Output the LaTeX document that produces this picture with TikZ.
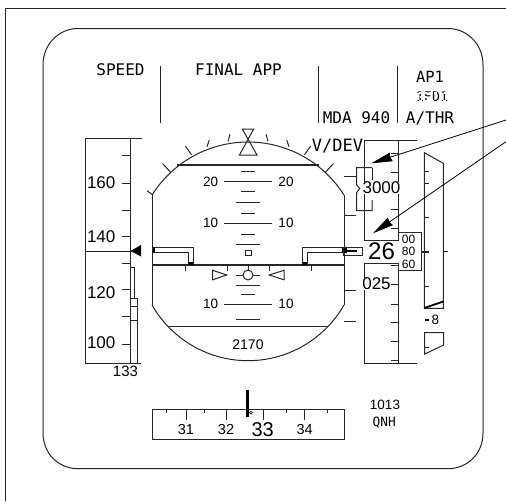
\documentclass[tikz,border=0pt]{standalone}
\usepackage{fontspec}
\usepackage{tikz}
\usetikzlibrary{arrows.meta}
\setmainfont{Liberation Sans}
\newfontfamily\panelmono{DejaVu Sans Mono}
\newcommand{\fs}[1]{\fontsize{#1}{#1}\selectfont}

\begin{document}
\begin{tikzpicture}[x=1pt, y=-1pt, line width=1pt, black!85,
    lbl/.style={inner sep=0pt, text=black},
    head/.style={lbl, font=\panelmono\fs{16}},
    tape/.style={lbl, font=\fs{17}},
    pitch/.style={lbl, font=\fs{13.5}},
    scalemark/.style={lbl, font=\fs{14}},
    pointer/.style={black, line width=0.8pt, -{Stealth[length=21pt, width=9pt, inset=1pt]}}]
  \useasboundingbox (0,0) rectangle (506,501);
  \draw (5,501) -- (5,8) -- (506,8);
  \draw (78,28.5) -- (448,28.5) .. controls (467,28.5) and (483,44) .. (483,65)
     -- (483,433) .. controls (483,454) and (467,468.7) .. (448,468.7)
     -- (78,468.7) .. controls (59,468.7) and (43,454) .. (43,433)
     -- (43,65) .. controls (43,44) and (59,28.5) .. (78,28.5);
  \foreach \x in {160,318.5,397.5}
    {\draw (\x,66) -- (\x,123);}
  \node[head] (speed) at (120.5,70) {SPEED};
  \node[head] (finalapp) at (238.5,70) {FINAL APP};
  \node[head, font=\panelmono\fs{15.5}] (apone) at (430,76.5) {AP1};
  \node[head, font=\panelmono\fs{13.3}] (fdone) at (432,96.5) {1FD1};
  \draw[white, line width=2pt, dash pattern=on 3pt off 2pt] (414,92.5) -- (450,92.5);
  \draw[white, line width=2pt, dash pattern=on 2pt off 3pt] (415,97) -- (450,97);
  \draw[white, line width=2pt, dash pattern=on 3pt off 3pt] (413,100.5) -- (450,100.5);
  \node[head] (mda) at (356.5,118) {MDA 940};
  \node[head] (athr) at (430,118) {A/THR};
  \node[head, font=\panelmono\fs{17}] (vdev) at (337.5,146) {V/DEV};

  % speed tape
  \draw (142,138) -- (85.5,138) -- (85.5,363.5) -- (141,363.5);
  \draw (130.5,138) -- (130.5,363.5);
  \foreach \y in {155,183,210,236,263,289.5,316.5,344}
    {\draw (122,\y) -- (130.5,\y);}
  \foreach \y/\v in {183/160,236.5/140,293/120,343/100}
    {\node[tape, anchor=west] (spd\v) at (86.5,\y) {\v};}
  \draw[line width=1.2pt] (85.5,251.5) -- (141,251.5);
  \fill[black] (130.5,251) -- (141,245) -- (141,256.5) -- cycle;
  \draw (130.5,267) -- (134,267) -- (134,298);
  \draw (130.5,298) -- (137.5,298) -- (137.5,363.5);
  \draw (130.5,306) -- (137.5,306);
  \draw (130.5,320) -- (137.5,320);
  \node[scalemark, font=\fs{15}] (vapp) at (125.5,371.5) {133};

  % sphere
  \draw plot[domain=212.3:327.7, samples=50] ({248+113.4*cos(\x)},{255.4+113.4*sin(\x)});
  \draw plot[domain=29.8:150.2, samples=50] ({248+110.6*cos(\x)},{250.1+110.6*sin(\x)});
  \draw (152.5,195) -- (152.5,305);
  \draw (344.3,195) -- (344.3,305);
  \foreach \xa/\ya/\xb/\yb in {
      18/134.3/20/141.3,
      38.7/140/41/146.7,
      62.7/146/56.5/154.7,
      85.3/163.7/77.3/172.3}
    {\draw (248-\xa,\ya) -- (248-\xb,\yb);
     \draw (248+\xa,\ya) -- (248+\xb,\yb);}
  \draw (147,190.7) -- (152.7,195);
  \draw (242.3,129) -- (253.7,129) -- (239.5,155) -- (257,155) -- cycle;
  \draw[line width=1.1pt] (176.7,165) -- (319,165);
  \draw[line width=1.1pt] (168.3,326.5) -- (328,326.5);
  \draw[line width=1.3pt] (152.5,265) -- (344.3,265);
  \foreach \y/\w in {171.7/7,191/7,202.3/12,213/7,234/7,244/12,285/12,294/7,319.3/12}
    {\draw (248-\w,\y) -- (248+\w,\y);}
  \foreach \y/\v in {181.7/20,223/10,304/10}
    {\draw (224.3,\y) -- (271.7,\y);
     \node[pitch] (pl\y) at (210.7,\y) {\v};
     \node[pitch] (pr\y) at (286,\y) {\v};}
  \draw (245.3,250) rectangle (251.3,255.3);
  \foreach \x in {185.7,227.7,269,311}
    {\draw (\x,265) -- (\x,271);}
  \draw (212.7,270.3) -- (226.7,275) -- (212.7,279.8) -- cycle;
  \draw (284,270.3) -- (269.3,275) -- (284,279.8) -- cycle;
  \draw (248,275) circle (5);
  \draw (236,275) -- (243,275);
  \draw (253,275) -- (260,275);
  \draw (248,265) -- (248,270);
  \node[scalemark] (radalt) at (248,345) {2170};

  % wings
  \draw (152.7,247.3) -- (193.3,247.3) -- (193.3,264);
  \draw (152.7,252.7) -- (188.3,252.7) -- (188.3,264);
  \fill[black] (152.5,247) rectangle (155,253);
  \fill[black] (188.3,262) rectangle (193.3,265);
  \draw (343.7,247.3) -- (302.7,247.3) -- (302.7,264);
  \draw (343.7,252.7) -- (307.3,252.7) -- (307.3,264);
  \fill[black] (302.7,262) rectangle (307.3,265);
  \fill[black] (342,247) rectangle (346.5,253);
  \draw (343.7,247.3) rectangle (362.7,255);
  \draw[black, line width=1.8pt] (346,251) -- (356.7,251);
  \foreach \y in {176,215,290,321.7}
    {\draw (344.3,\y) -- (356,\y);}

  % altitude tape
  \draw (417,140) -- (364,140) -- (364,240) -- (398.7,240);
  \draw (398.7,140) -- (398.7,240);
  \draw (398.7,263) -- (364.7,263) -- (364.7,363.7) -- (417,363.7);
  \draw (398.7,263) -- (398.7,363.7);
  \foreach \y in {153,172,190,209,228,265,284,304.3,322.7,341.7,360}
    {\draw (391,\y) -- (398.7,\y);}
  \draw (398.5,232.7) -- (421,232.7) -- (421,270) -- (398.5,270);
  \node[lbl, font=\fs{12}] (rolla) at (408.5,239.5) {00};
  \node[lbl, font=\fs{12}] (rollb) at (408.5,251) {80};
  \node[lbl, font=\fs{12}] (rollc) at (408.5,264) {60};
  \node[lbl, font=\fs{24}] (alt) at (381.5,251.5) {26};
  \node[lbl, fill=white, font=\fs{17}] (altlow) at (376.5,284) {025};
  \draw (372,167.7) -- (356.7,167.7) -- (356.7,185) -- (359.7,188.5) -- (356.7,192.5)
     -- (356.7,210.7) -- (372,210.7) -- (372,200);
  \draw (372,167.7) -- (372,180);
  \node[lbl, fill=white, inner xsep=0.5pt, font=\fs{17}] (altsel) at (381.5,188) {3000};

  % vertical speed
  \draw (443.3,308.3) -- (424.3,308.3) -- (424.3,152.7) -- (443.3,163.3) -- cycle;
  \draw[line width=1.8pt, black] (424.3,308) -- (443.3,301.5);
  \foreach \y in {171.7,217.7,286.7}
    {\draw (424.3,\y) -- (429,\y);}
  \draw[line width=1.6pt] (424.3,183.3) -- (429,183.3);
  \draw[line width=1.6pt] (421,251.7) -- (429,251.7);
  \draw (443.3,251.7) -- (448,251.7);
  \draw[line width=1.8pt, black] (424.5,320) -- (428.5,320);
  \node[pitch, anchor=west] (vseight) at (431,320) {8};
  \draw (424.7,332.7) -- (443.7,332.7) -- (443.7,345) -- (424.7,354) -- cycle;
  \draw (424.7,347.3) -- (428.7,347.3);

  % heading
  \draw (152.5,409) rectangle (344.7,439);
  \foreach \x in {166.7,204,286,327}
    {\draw (\x,409) -- (\x,413);}
  \foreach \x in {186,226,263,304.7}
    {\draw (\x,409) -- (\x,420);}
  \foreach \x/\v in {186/31,226/32,304.7/34}
    {\node[pitch, font=\fs{14.5}] (hdg\v) at (\x,430) {\v};}
  \node[lbl, font=\fs{20}] (hdgmain) at (262.7,429.5) {33};
  \draw[black, line width=3pt] (247.7,390) -- (247.7,417);
  \draw[line width=0.7pt] (251,412.7) circle (1.5);
  \node[scalemark, font=\fs{13.5}] (baro) at (385,405) {1013};
  \node[lbl, font=\panelmono\fs{12.8}] (qnh) at (384.3,422.7) {QNH};

  % callouts
  \coordinate (calla) at (506,120);
  \coordinate (tipa) at (371.3,163.3);
  \coordinate (callb) at (506,141.7);
  \coordinate (tipb) at (373,233.3);
  \draw[pointer] (calla) -- (tipa);
  \draw[pointer] (callb) -- (tipb);
\end{tikzpicture}
\end{document}
